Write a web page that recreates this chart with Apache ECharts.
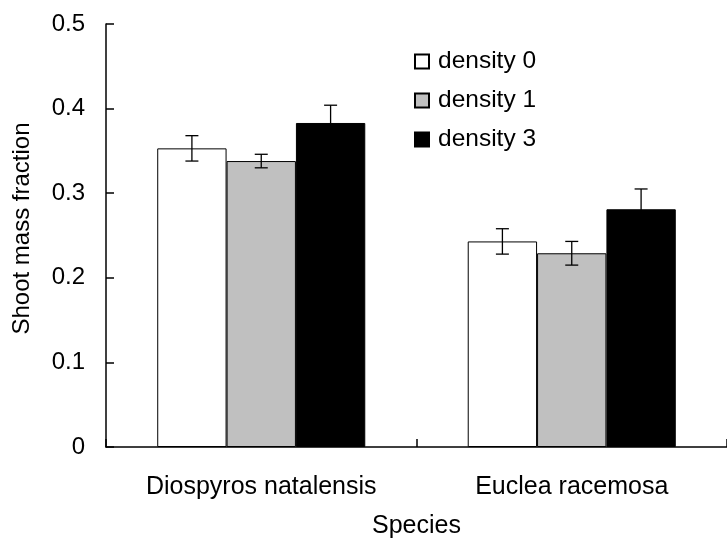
<!DOCTYPE html>
<html>
<head>
<meta charset="utf-8">
<script src="https://cdn.jsdelivr.net/npm/echarts@6/dist/echarts.min.js"></script>
<style>html,body{margin:0;padding:0;background:#fff;}#c{width:727px;height:544px;}</style>
</head>
<body>
<div id="c"></div>
<script>
var categories = ['Diospyros natalensis', 'Euclea racemosa'];
var seriesNames = ['density 0', 'density 1', 'density 3'];
var density0 = [0.353, 0.243];
var density1 = [0.338, 0.229];
var density3 = [0.383, 0.281];
var err0 = [0.015, 0.015];
var err1 = [0.008, 0.014];
var err3 = [0.021, 0.024];
var yTickLabels = ['0', '0.1', '0.2', '0.3', '0.4', '0.5'];
var colors = ['#ffffff', '#c0c0c0', '#000000'];

var FONT = '"Liberation Sans", Arial, sans-serif';
var values = [density0, density1, density3];
var errs = [err0, err1, err3];
var GAP = 0.33;

var series = [];
values.forEach(function (vals, i) {
  series.push({
    name: seriesNames[i],
    type: 'bar',
    data: vals,
    barGap: '0%',
    barCategoryGap: (GAP * 100) + '%',
    itemStyle: { color: colors[i], borderColor: '#000', borderWidth: 1 },
    emphasis: { disabled: true },
    z: 2
  });
});
values.forEach(function (vals, i) {
  var data = vals.map(function (v, j) { return [j, v, errs[i][j]]; });
  series.push({
    type: 'custom',
    name: 'err' + i,
    data: data,
    z: 5,
    renderItem: function (params, api) {
      var cat = api.value(0), v = api.value(1), e = api.value(2);
      var band = api.size([1, 0])[0];
      var bw = band * (1 - GAP) / 3;
      var center = api.coord([cat, v]);
      var cx = center[0] + (i - 1) * bw;
      var top = api.coord([cat, v + e])[1];
      var bot = api.coord([cat, v - e])[1];
      var cap = 6.5;
      var st = { stroke: '#000', lineWidth: 1.3 };
      return {
        type: 'group',
        children: [
          { type: 'line', shape: { x1: cx, y1: top, x2: cx, y2: bot }, style: st },
          { type: 'line', shape: { x1: cx - cap, y1: top, x2: cx + cap, y2: top }, style: st },
          { type: 'line', shape: { x1: cx - cap, y1: bot, x2: cx + cap, y2: bot }, style: st }
        ]
      };
    }
  });
});

var chart = echarts.init(document.getElementById('c'), null, { renderer: 'canvas' });
chart.setOption({
  animation: false,
  backgroundColor: '#fff',
  textStyle: { fontFamily: FONT },
  grid: { left: 106, width: 624, top: 24, height: 426, containLabel: false },
  legend: {
    data: seriesNames,
    orient: 'vertical',
    left: 414,
    top: 49,
    padding: 0,
    icon: 'rect',
    itemWidth: 14,
    itemHeight: 14,
    itemGap: 14,
    textStyle: { fontFamily: FONT, fontSize: 24.5, color: '#000', lineHeight: 24.5, padding: [0, 0, 0, 4] },
    selectedMode: false
  },
  xAxis: {
    type: 'category',
    data: categories,
    name: 'Species',
    nameLocation: 'middle',
    nameGap: 67,
    nameTextStyle: { fontFamily: FONT, fontSize: 25, color: '#000' },
    axisLine: { lineStyle: { color: '#000', width: 1.5 } },
    axisTick: { show: true, inside: true, length: 8, lineStyle: { color: '#000', width: 1.5 } },
    axisLabel: { fontFamily: FONT, fontSize: 25, color: '#000', margin: 28 },
    splitLine: { show: false }
  },
  yAxis: {
    type: 'value',
    min: 0,
    max: 0.5,
    interval: 0.1,
    name: 'Shoot mass fraction',
    nameLocation: 'middle',
    nameGap: 72,
    nameTextStyle: { fontFamily: FONT, fontSize: 24, color: '#000', padding: [0, 0, 0, 14] },
    axisLine: { show: true, lineStyle: { color: '#000', width: 1.5 } },
    axisTick: { show: true, inside: true, length: 8, lineStyle: { color: '#000', width: 1.5 } },
    axisLabel: {
      fontFamily: FONT, fontSize: 24, color: '#000', margin: 21,
      formatter: function (v) { return yTickLabels[Math.round(v * 10)]; }
    },
    splitLine: { show: false }
  },
  series: series
});
</script>
</body>
</html>
